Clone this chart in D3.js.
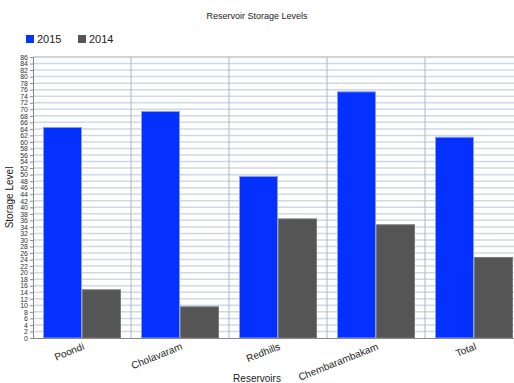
<!DOCTYPE html>
<html>
<head>
<meta charset="utf-8">
<script src="https://cdn.jsdelivr.net/npm/d3@7"></script>
<style>
  html, body { margin: 0; padding: 0; background: #fff; overflow: hidden; }
  svg { display: block; font-family: "Liberation Sans", Arial, sans-serif; }
</style>
</head>
<body>
<svg id="chart" width="514" height="383"></svg>
<script>
// Reservoir storage levels, 2015 vs 2014
const reservoirs = ["Poondi", "Cholavaram", "Redhills", "Chembarambakam", "Total"];
const seriesNames = ["2015", "2014"];
const values2015 = [64.6, 69.5, 49.6, 75.5, 61.6];
const values2014 = [14.9, 9.7, 36.6, 34.8, 24.8];
const yTicks = d3.range(0, 88, 2);
const seriesColors = ["#0531ff", "#555555"];
const seriesStrokes = ["#8a9cff", "#7a7a7a"];

const svg = d3.select("#chart");
const margin = { top: 57, left: 33, bottom: 338, right: 523 };

const x = d3.scaleBand().domain(reservoirs).range([margin.left, margin.right]).paddingInner(0).paddingOuter(0);
const xSeries = d3.scaleBand().domain(seriesNames).range([10, x.bandwidth() - 10]).padding(0);
const y = d3.scaleLinear().domain([0, 86]).range([margin.bottom, margin.top]);

const rows = reservoirs.map((name, i) => ({ name, vals: [values2015[i], values2014[i]] }));

// Title
svg.append("text")
  .attr("x", 257).attr("y", 19)
  .attr("text-anchor", "middle")
  .attr("font-size", 9).attr("fill", "#222")
  .text("Reservoir Storage Levels");

// Legend
const legend = svg.append("g").attr("transform", "translate(26,35)");
seriesNames.forEach((s, i) => {
  const g = legend.append("g").attr("transform", `translate(${i * 52},0)`);
  g.append("rect").attr("width", 8).attr("height", 8).attr("fill", seriesColors[i]);
  g.append("text").attr("x", 11).attr("y", 8).attr("font-size", 11).attr("fill", "#222").text(s);
});

// Horizontal grid
svg.append("g")
  .selectAll("line").data(yTicks.filter(d => d > 0)).join("line")
  .attr("x1", margin.left).attr("x2", margin.right)
  .attr("y1", d => y(d)).attr("y2", d => y(d))
  .attr("stroke", d => d === 86 ? "#c4c4c4" : "#cfd8e6").attr("stroke-width", 1.5);

// Vertical grid between categories
svg.append("g")
  .selectAll("line").data(reservoirs.slice(1)).join("line")
  .attr("x1", d => x(d)).attr("x2", d => x(d))
  .attr("y1", margin.top).attr("y2", margin.bottom)
  .attr("stroke", "#a9b6c8").attr("stroke-width", 1);

// Bars
const groups = svg.append("g").selectAll("g").data(rows).join("g")
  .attr("transform", d => `translate(${x(d.name)},0)`);
groups.selectAll("rect")
  .data(d => d.vals.map((v, i) => ({ key: seriesNames[i], v, i })))
  .join("rect")
  .attr("x", d => xSeries(d.key) + 0.5)
  .attr("y", d => y(d.v) + 0.5)
  .attr("width", xSeries.bandwidth() - 1)
  .attr("height", d => y(0) - y(d.v) - 0.5)
  .attr("fill", d => seriesColors[d.i])
  .attr("stroke", d => seriesStrokes[d.i])
  .attr("stroke-width", 1);

// Y axis (dense ticks every 2 units, labels kept small)
const yAxis = svg.append("g")
  .attr("transform", `translate(${margin.left},0)`)
  .call(d3.axisLeft(y).tickValues(yTicks).tickSize(3).tickPadding(2));
yAxis.select(".domain").attr("stroke", "#888");
yAxis.selectAll(".tick line").attr("stroke", "#888");
yAxis.selectAll(".tick text").attr("font-size", 7).attr("fill", "#333")
  .attr("font-family", "Liberation Sans, Arial, sans-serif");

// X axis with slanted category labels
const xAxis = svg.append("g")
  .attr("transform", `translate(0,${margin.bottom})`)
  .call(d3.axisBottom(x).tickSize(0).tickPadding(0));
xAxis.select(".domain").attr("stroke", "#888");
xAxis.selectAll(".tick text")
  .attr("font-size", 10).attr("fill", "#222")
  .attr("font-family", "Liberation Sans, Arial, sans-serif")
  .attr("text-anchor", "end")
  .attr("dy", null).attr("y", 0)
  .attr("transform", "translate(3,11) rotate(-22)");

// Axis titles
svg.append("text")
  .attr("x", 257).attr("y", 382)
  .attr("text-anchor", "middle").attr("font-size", 10).attr("fill", "#222")
  .text("Reservoirs");
svg.append("text")
  .attr("transform", `translate(13,${(margin.top + margin.bottom) / 2}) rotate(-90)`)
  .attr("text-anchor", "middle").attr("font-size", 10).attr("fill", "#222")
  .text("Storage Level");
</script>
</body>
</html>
